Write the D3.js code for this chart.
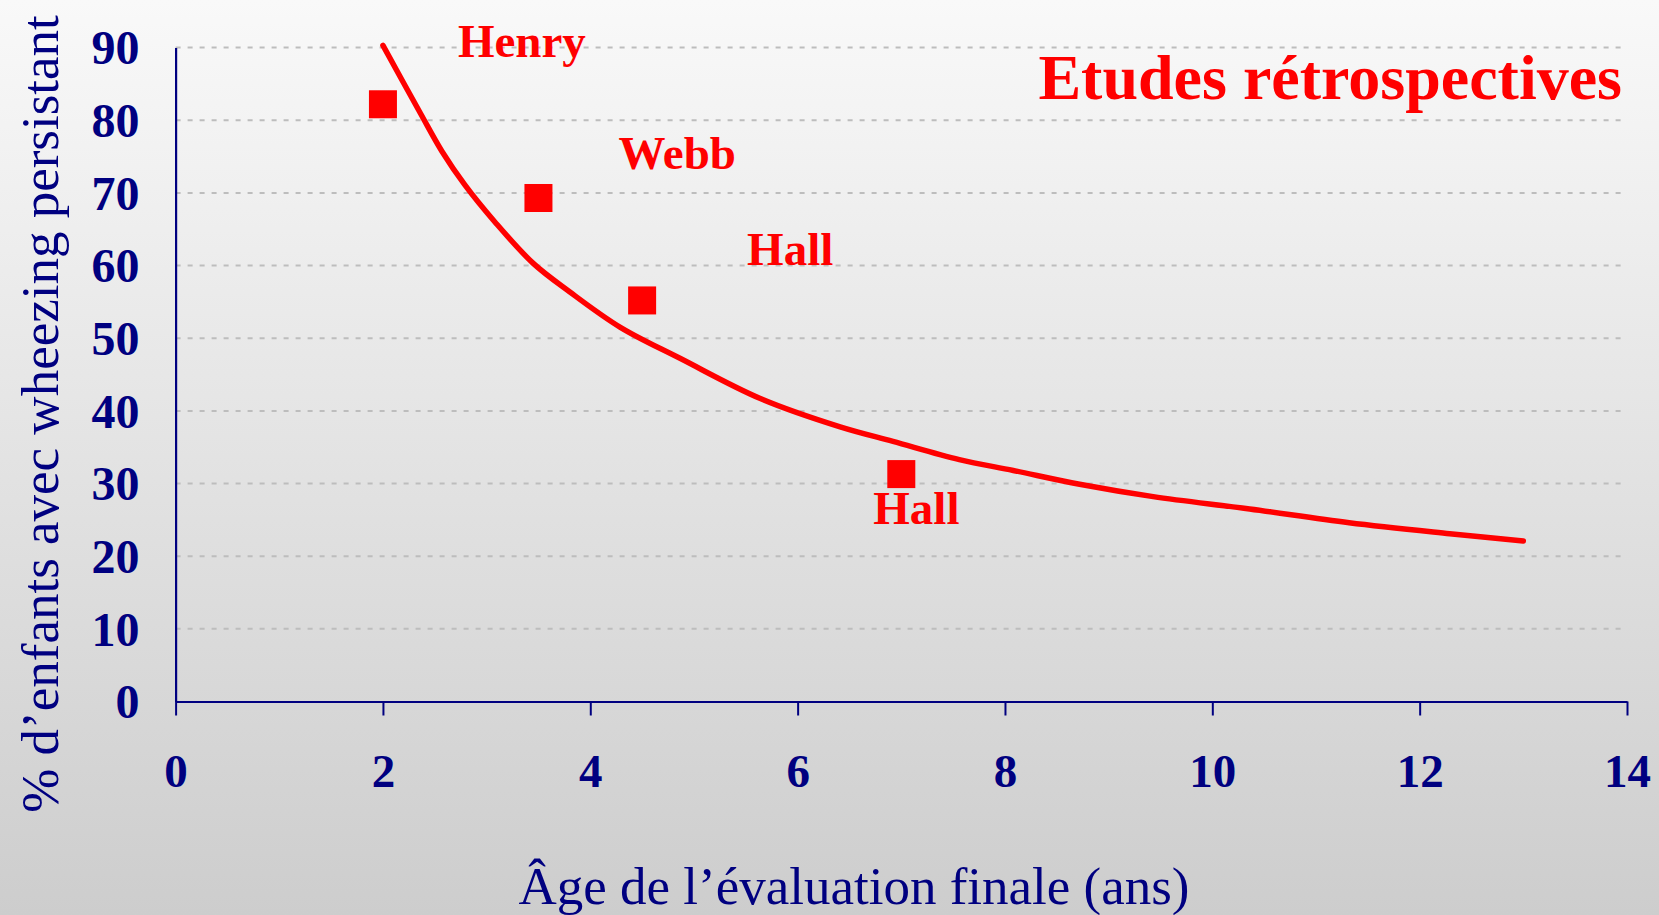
<!DOCTYPE html>
<html>
<head>
<meta charset="utf-8">
<script src="https://cdn.jsdelivr.net/npm/d3@7"></script>
<style>
	html, body { margin: 0; padding: 0; }
	svg { display: block; }
</style>
</head>
<body>
<div id="chart"></div>
<script>
// points
const studies = ["Henry", "Webb", "Hall", "Hall"];
const studyAge = [2, 3.5, 4.5, 7];
const studyPct = [82.2, 69.3, 55.2, 31.3];

// trend curve
const curveAge = [2.0, 2.36, 2.57, 2.79, 3.08, 3.45, 3.8, 4.29, 4.87, 5.64, 6.41, 6.92, 7.56, 8.08, 8.72, 9.43, 10.36, 11.32, 12.29, 13.0];
const curvePct = [90.3, 81.0, 75.7, 71.1, 66.0, 60.3, 56.4, 51.5, 47.2, 41.7, 37.8, 35.8, 33.3, 31.8, 29.9, 28.2, 26.5, 24.6, 23.1, 22.1];

const xTicks = [0, 2, 4, 6, 8, 10, 12, 14];
const yTicks = [0, 10, 20, 30, 40, 50, 60, 70, 80, 90];

// label offsets from each point (px)
const labelDx = [75, 80, 105, -28];
const labelDy = [-47, -29, -35, 50];

const W = 1659, H = 915;
const navy = "#000080", red = "#ff0000";
const serif = "'Times New Roman', 'Liberation Serif', serif";

const svg = d3.select("#chart").append("svg")
	.attr("width", W)
	.attr("height", H);

// fond dégradé
const grad = svg.append("defs").append("linearGradient")
	.attr("id", "bg")
	.attr("x1", 0).attr("y1", 0).attr("x2", 0).attr("y2", 1);
grad.append("stop").attr("offset", "0%").attr("stop-color", "#f9f9f9");
grad.append("stop").attr("offset", "100%").attr("stop-color", "#cdcdcd");
svg.append("rect").attr("width", W).attr("height", H).attr("fill", "url(#bg)");

const x = d3.scaleLinear().domain([0, 14]).range([175.6, 1627]);
const y = d3.scaleLinear().domain([0, 90]).range([701.5, 47.6]);

// grille
svg.append("g")
	.selectAll("line")
	.data(yTicks.filter(d => d > 0))
	.join("line")
	.attr("x1", x(0)).attr("x2", x(14))
	.attr("y1", d => y(d)).attr("y2", d => y(d))
	.attr("stroke", "#bdbdbd")
	.attr("stroke-width", 2)
	.attr("stroke-dasharray", "5,7");

// axe x
const gx = svg.append("g")
	.attr("transform", `translate(0,${y(0)})`)
	.call(d3.axisBottom(x).tickValues(xTicks).tickSize(14).tickSizeOuter(0));
gx.select(".domain").attr("stroke", navy).attr("stroke-width", 2.2);
gx.selectAll(".tick line").attr("stroke", navy).attr("stroke-width", 2);
gx.selectAll(".tick text")
	.attr("y", 85).attr("dy", null)
	.attr("fill", navy)
	.style("font", `bold 47px ${serif}`);

// axe y
const gy = svg.append("g")
	.attr("transform", `translate(${x(0)},0)`)
	.call(d3.axisLeft(y).tickValues(yTicks).tickSize(0).tickSizeOuter(0));
gy.select(".domain").attr("stroke", navy).attr("stroke-width", 2.2);
gy.selectAll(".tick text")
	.attr("x", -36).attr("dy", "0.34em")
	.attr("fill", navy)
	.style("font", `bold 48px ${serif}`);

// courbe
const curve = curveAge.map((a, i) => [a, curvePct[i]]);
svg.append("path")
	.datum(curve)
	.attr("fill", "none")
	.attr("stroke", red)
	.attr("stroke-width", 5.5)
	.attr("stroke-linecap", "round")
	.attr("stroke-linejoin", "round")
	.attr("d", d3.line().x(d => x(d[0])).y(d => y(d[1])).curve(d3.curveCatmullRom.alpha(0.5)));

// études
const pts = studies.map((s, i) => ({ name: s, age: studyAge[i], pct: studyPct[i], dx: labelDx[i], dy: labelDy[i] }));
svg.append("g")
	.selectAll("rect")
	.data(pts)
	.join("rect")
	.attr("x", d => x(d.age) - 14)
	.attr("y", d => y(d.pct) - 14)
	.attr("width", 28)
	.attr("height", 28)
	.attr("fill", red);

svg.append("g")
	.selectAll("text")
	.data(pts)
	.join("text")
	.attr("x", d => x(d.age) + d.dx)
	.attr("y", d => y(d.pct) + d.dy)
	.attr("fill", red)
	.style("font", `bold 47px ${serif}`)
	.text(d => d.name);

// titre
svg.append("text")
	.attr("x", 1622).attr("y", 99)
	.attr("text-anchor", "end")
	.attr("fill", red)
	.style("font", `bold 64px ${serif}`)
	.text("Etudes rétrospectives");

// titres des axes
svg.append("text")
	.attr("x", 854).attr("y", 904)
	.attr("text-anchor", "middle")
	.attr("fill", navy)
	.style("font", `53px ${serif}`)
	.text("Âge de l’évaluation finale (ans)");

svg.append("text")
	.attr("transform", "translate(58,414) rotate(-90)")
	.attr("text-anchor", "middle")
	.attr("fill", navy)
	.style("font", `53px ${serif}`)
	.text("% d’enfants avec wheezing persistant");
</script>
</body>
</html>
